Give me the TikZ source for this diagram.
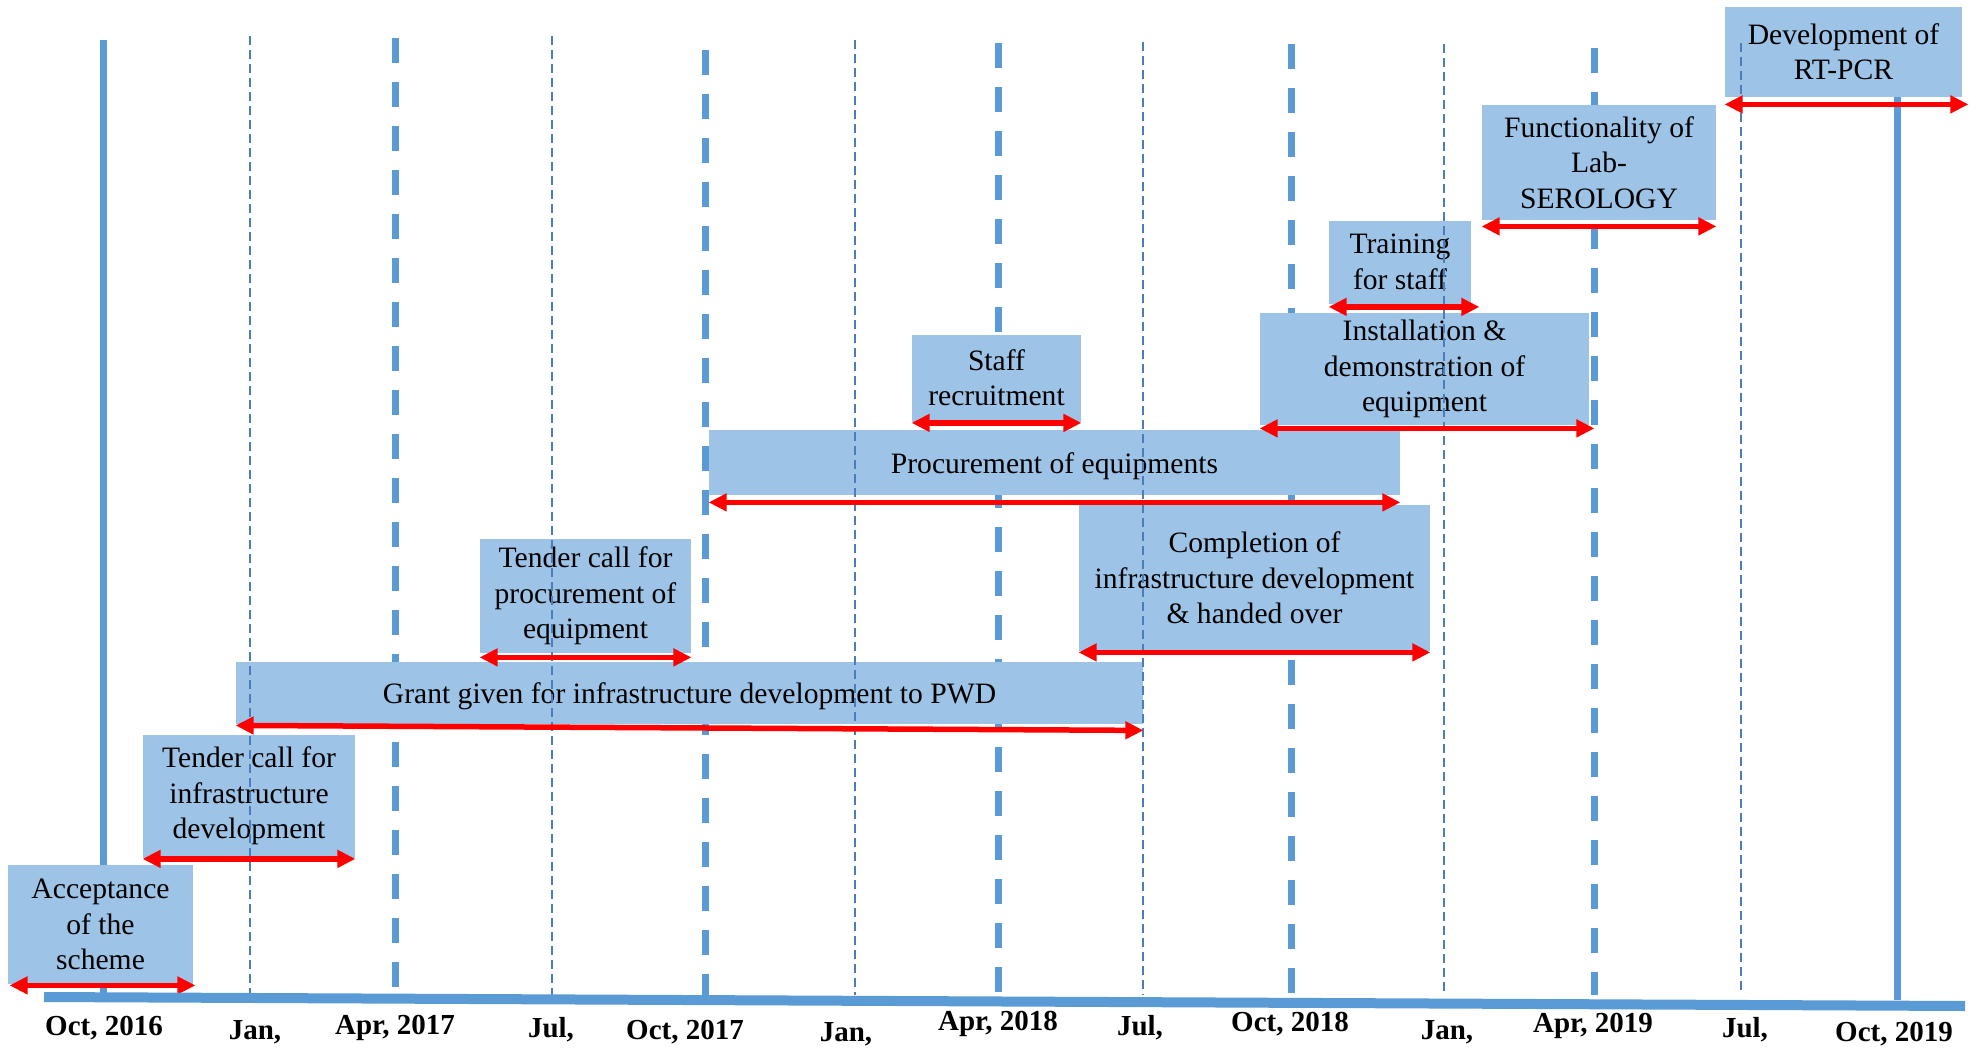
\documentclass[tikz,border=0pt]{standalone}
\usepackage{fontspec}
\setmainfont{Liberation Serif}
\usetikzlibrary{arrows.meta}
\definecolor{barblue}{HTML}{5B9BD5}
\definecolor{gridblue}{HTML}{4A7EBB}
\definecolor{boxblue}{HTML}{9DC3E6}

\begin{document}
\begin{tikzpicture}[x=0.5pt, y=-0.5pt,
  every node/.style={inner sep=0pt},
  task/.style={fill=boxblue, align=center,
               font=\fontsize{14.8}{17.7}\selectfont},
  oneline/.style={task,
               execute at begin node=\rule{0pt}{14pt},
               execute at end node=\rule[-3pt]{0pt}{0pt}},
  span/.style={{Triangle[length=9pt,width=8.5pt]}-{Triangle[length=9pt,width=8.5pt]},
               red, line width=2.75pt},
  yearline/.style={barblue, line width=3.5pt},
  major/.style={barblue, line width=3.5pt, dash pattern=on 12.5pt off 9.5pt},
  minor/.style={gridblue, line width=1.25pt, dash pattern=on 4.5pt off 2.5pt},
  month/.style={font=\fontsize{14.5}{17}\selectfont\bfseries}]
\useasboundingbox (0,0) rectangle (1981,1049);

% quarter lines behind the boxes
\draw[yearline] (103,40) -- (103,995);
\draw[major] (395,38) -- (395,995);
\draw[major] (705,50) -- (705,995);
\draw[major] (998,43) -- (998,995);
\draw[major] (1291,44) -- (1291,995);
\draw[major] (1594,48) -- (1594,995);
\draw[yearline] (1897,40) -- (1897,1000);

% activities
\node[task, minimum width=92.5pt, minimum height=59.5pt] (accept) at (100.5,924.5)
  {Acceptance\\of the\\scheme};
\node[task, minimum width=106pt, minimum height=61.5pt] (tinfra) at (249,796)
  {Tender call for\\infrastructure\\development};
\node[oneline, minimum width=453.5pt, minimum height=31pt] (grant) at (689.5,693)
  {Grant given for infrastructure development to PWD};
\node[task, minimum width=105.5pt, minimum height=57pt] (tequip) at (585.5,596)
  {Tender call for\\procurement of\\equipment};
\node[oneline, minimum width=345.5pt, minimum height=32.5pt] (procure) at (1054.5,462.5)
  {Procurement of equipments};
\node[task, minimum width=84.5pt, minimum height=43.5pt] (recruit) at (996.5,378)
  {Staff\\recruitment};
\node[task, minimum width=175.5pt, minimum height=73pt] (handover) at (1254.5,578)
  {Completion of\\infrastructure development\\\& handed over};
\node[task, minimum width=164.5pt, minimum height=56pt] (install) at (1424.5,369)
  {Installation \&\\demonstration of\\equipment};
\node[task, minimum width=71pt, minimum height=41.5pt] (training) at (1400,262)
  {Training\\for staff};
\node[task, minimum width=117pt, minimum height=57.5pt] (serology) at (1599,162.5)
  {Functionality of\\Lab-\\SEROLOGY};
\node[task, minimum width=118.5pt, minimum height=45pt] (rtpcr) at (1843.5,52)
  {Development of\\RT-PCR};

% month lines over the boxes
\draw[minor] (250,36) -- (250,995);
\draw[minor] (552,36) -- (552,995);
\draw[minor] (855,40) -- (855,995);
\draw[minor] (1143,42) -- (1143,995);
\draw[minor] (1444,44) -- (1444,995);
\draw[minor] (1741,43) -- (1741,995);

% durations
\draw[span] ([xshift=1pt,yshift=-0.5pt]accept.south west) -- ([xshift=1pt,yshift=-0.5pt]accept.south east);
\draw[span] ([yshift=-0.5pt]tinfra.south west) -- ([yshift=-0.5pt]tinfra.south east);
\draw[span] ([yshift=-0.5pt]grant.south west) -- ([yshift=-3pt]grant.south east);
\draw[span] ([yshift=-2pt]tequip.south west) -- ([yshift=-2pt]tequip.south east);
\draw[span] ([yshift=-3.5pt]procure.south west) -- ([yshift=-3.5pt]procure.south east);
\draw[span] ([yshift=-0.5pt]recruit.south west) -- ([yshift=-0.5pt]recruit.south east);
\draw[span] ([yshift=-0.5pt]handover.south west) -- ([yshift=-0.5pt]handover.south east);
\draw[span] ([yshift=-1.5pt]install.south west) -- ([xshift=2.5pt,yshift=-1.5pt]install.south east);
\draw[span] ([yshift=-1.5pt]training.south west) -- ([xshift=4pt,yshift=-1.5pt]training.south east);
\draw[span] ([yshift=-3pt]serology.south west) -- ([yshift=-3pt]serology.south east);
\draw[span] ([yshift=-3.5pt]rtpcr.south west) -- ([xshift=3pt,yshift=-3.5pt]rtpcr.south east);

% time axis
\draw[barblue, line width=5pt] (44,997) -- (1965,1006);
\node[month] (oct16) at (104,1028) {Oct, 2016};
\node[month] (jan17) at (255,1032) {Jan,};
\node[month] (apr17) at (395,1028) {Apr, 2017};
\node[month] (jul17) at (551,1030) {Jul,};
\node[month] (oct17) at (685,1032) {Oct, 2017};
\node[month] (jan18) at (846,1034) {Jan,};
\node[month] (apr18) at (998,1024) {Apr, 2018};
\node[month] (jul18) at (1140,1028) {Jul,};
\node[month] (oct18) at (1290,1024) {Oct, 2018};
\node[month] (jan19) at (1447,1032) {Jan,};
\node[month] (apr19) at (1593,1026) {Apr, 2019};
\node[month] (jul19) at (1745,1030) {Jul,};
\node[month] (oct19) at (1894,1034) {Oct, 2019};
\end{tikzpicture}
\end{document}
